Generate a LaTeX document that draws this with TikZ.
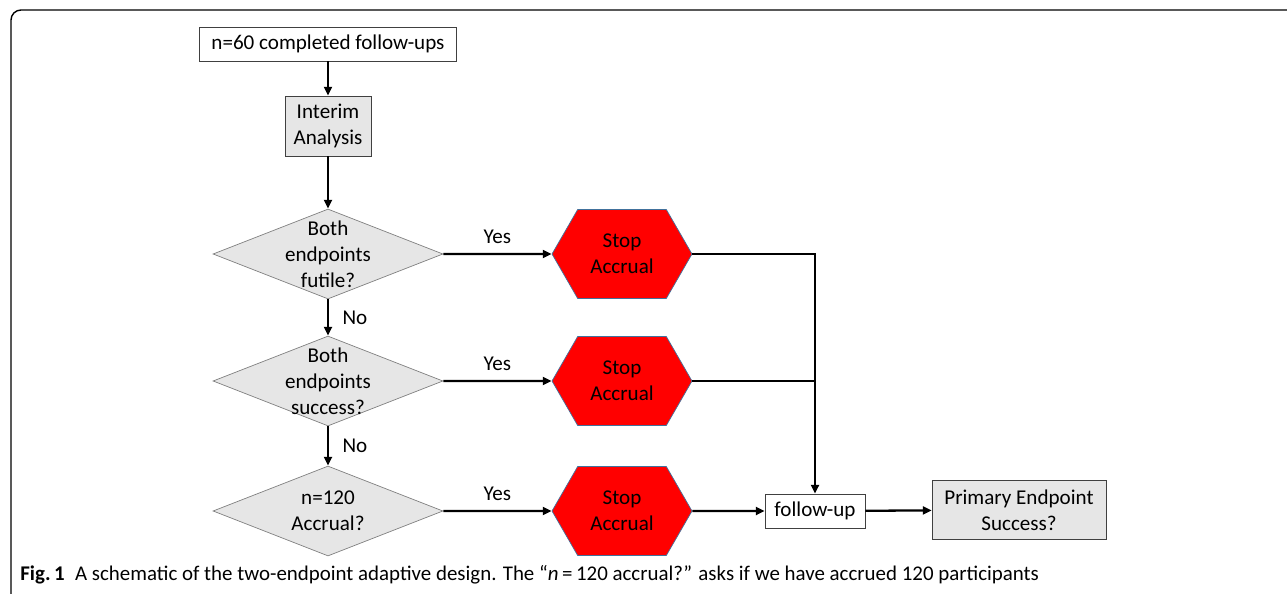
\documentclass[tikz,border=0pt]{standalone}
\usepackage{fontspec}
\setmainfont{Carlito}
\usepackage{tikz}
\usetikzlibrary{shapes}
\usetikzlibrary{arrows.meta}
\usetikzlibrary{positioning}
\definecolor{box-line}{HTML}{404040}
\definecolor{box-grey}{HTML}{E6E6E6}
\definecolor{hex-line}{HTML}{41719C}
\tikzset{every text node part/.style={align=center, font={\fontsize{12}{14.8}\selectfont}}}
\tikzstyle{ln} = [draw, line width=1.3pt, -{Triangle[length=5pt,width=4.5pt]}]
\tikzstyle{ln-plain} = [draw, line width=1.3pt]

\begin{document}
\begin{tikzpicture}[x=0.02cm, y=-0.02cm,
        plain-box/.style={rectangle, draw=box-line, fill=white, minimum height=0.68cm, inner sep=0.1cm},
        grey-box/.style={plain-box, fill=box-grey},
        decision/.style={diamond, draw=gray, fill=box-grey, minimum width=4.6cm, minimum height=1.8cm, inner sep=0pt},
        stop-node/.style={signal, signal to=east and west, signal pointer angle=120, draw=hex-line, fill=red, minimum width=2.8cm, minimum height=1.78cm, inner sep=0pt}
      ]
      \useasboundingbox (0,0) rectangle (1287,594);
      % outer frame of the figure
      \draw[line width=0.8pt, rounded corners=0.2cm] (11,594) -- (11,10) -- (1300,10);

      \node[plain-box, minimum width=5.14cm]        (start)   at (328,44)   {n=60 completed follow-ups};
      \node[grey-box, minimum width=1.72cm, minimum height=1.2cm, align=left] (interim) at (328,126) {Interim\\Analysis};
      \node[decision, label={[align=center]center:Both\\endpoints\\futile?}]   (futile)  at (328,254) {};
      \node[decision, label={[align=center]center:Both\\endpoints\\success?}]  (success) at (328,381) {};
      \node[decision, label={[align=center]center:n=120\\Accrual?}]            (accrual) at (328,511) {};
      \node[stop-node]         (stop1)   at (622,254)  {Stop\\Accrual};
      \node[stop-node]         (stop2)   at (622,381)  {Stop\\Accrual};
      \node[stop-node]         (stop3)   at (622,511)  {Stop\\Accrual};
      \node[plain-box, minimum width=2cm]           (fup)     at (815,511)  {follow-up};
      \node[grey-box, minimum width=3.48cm, minimum height=1.18cm] (primary) at (1019,510) {Primary Endpoint\\Success?};

      \draw[ln]                (start)    --                         (interim);
      \draw[ln]                (interim)  --                         (futile);
      \draw[ln]                (futile)   -- node[right=0.15cm] {No} (success);
      \draw[ln]                (success)  -- node[right=0.15cm] {No} (accrual);
      \draw[ln]                (futile)   -- node[above=0.07cm] {Yes} (stop1);
      \draw[ln]                (success)  -- node[above=0.07cm] {Yes} (stop2);
      \draw[ln]                (accrual)  -- node[above=0.07cm] {Yes} (stop3);
      \draw[ln]                (stop1.east) -|                       (fup.north);
      \draw[ln-plain]          (stop2.east) -- (stop2.east -| fup.north);
      \draw[ln]                (stop3)    --                         (fup);
      \draw[ln]                (fup)      --                         (primary);

      \node[anchor=base west, inner sep=0pt]  (caption) at (20,580) {\fontsize{11.9}{13}\selectfont\textbf{Fig.\,1}\enspace A schematic of the two-endpoint adaptive design. The ``\textit{n}\,=\,120 accrual?'' asks if we have accrued 120 participants};
    \end{tikzpicture}
\end{document}
